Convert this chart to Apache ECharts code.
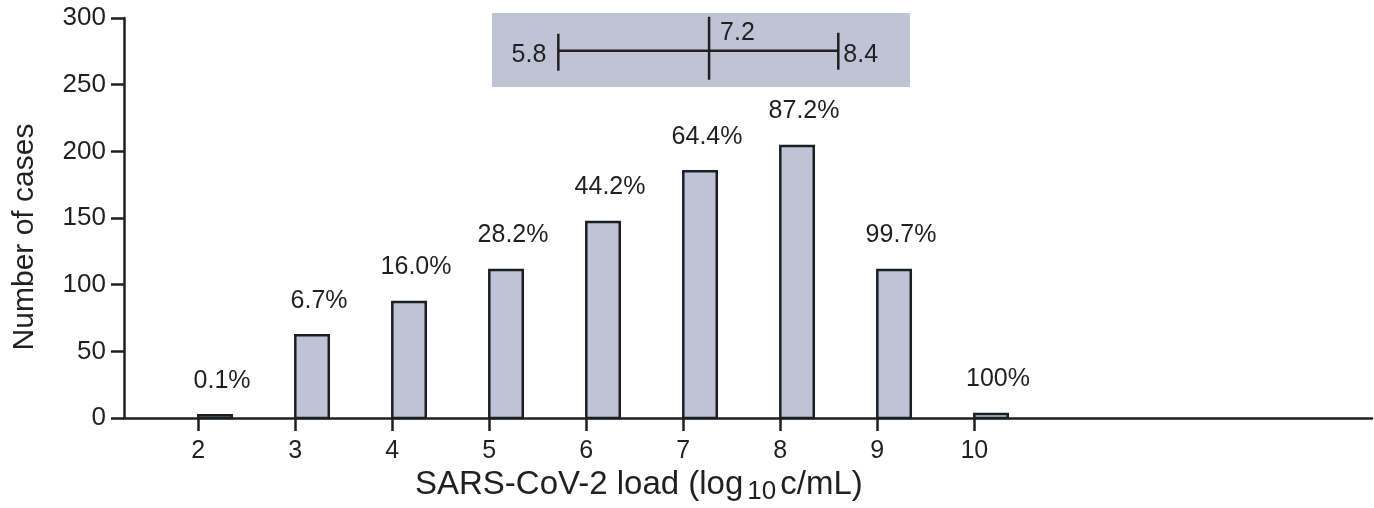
<!DOCTYPE html>
<html>
<head>
<meta charset="utf-8">
<script src="https://cdn.jsdelivr.net/npm/echarts@6/dist/echarts.min.js"></script>
<style>
  html, body { margin: 0; padding: 0; background: #fff; }
  #chart { width: 1374px; height: 508px; }
</style>
</head>
<body>
<div id="chart"></div>
<script>
// histogram bins (log10 copies/mL) and number of cases per bin
const loadBins = [2, 3, 4, 5, 6, 7, 8, 9, 10];
const caseCounts = [2, 62, 87, 111, 147, 185, 204, 111, 3];
const cumulativeLabels = ['0.1%', '6.7%', '16.0%', '28.2%', '44.2%', '64.4%', '87.2%', '99.7%', '100%'];
const xTickValues = [2, 3, 4, 5, 6, 7, 8, 9, 10];
// range / median shown in the inset box
const rangeLow = 5.8;
const rangeMedian = 7.2;
const rangeHigh = 8.4;

const INK = '#231f20';
const FILL = '#bec4d6';
const FONT = "'Liberation Sans', Arial, sans-serif";
const BAR_SPAN = 0.345;

const chart = echarts.init(document.getElementById('chart'), null, { renderer: 'canvas' });

function renderBar(params, api) {
  const x = api.value(0);
  const y = api.value(1);
  const p0 = api.coord([x, 0]);
  const p1 = api.coord([x + BAR_SPAN, y]);
  return {
    type: 'group',
    children: [
      {
        type: 'rect',
        shape: { x: p0[0], y: p1[1], width: p1[0] - p0[0], height: p0[1] - p1[1] },
        style: { fill: FILL, stroke: '#1b1e22', lineWidth: 2.5 }
      },
      {
        type: 'text',
        x: (p0[0] + p1[0]) / 2 + 7,
        y: p1[1] - 22,
        style: {
          text: cumulativeLabels[params.dataIndex],
          align: 'center', verticalAlign: 'bottom',
          fontSize: 25, fontFamily: FONT, fill: INK
        }
      }
    ]
  };
}

function renderRange(params, api) {
  const lo = api.coord([api.value(0), 0.49]);
  const md = api.coord([api.value(1), 0.49]);
  const hi = api.coord([api.value(2), 0.49]);
  const ls = { stroke: INK, lineWidth: 2.5 };
  const txt = (t, x, y, align) => ({
    type: 'text', x, y,
    style: { text: t, align, verticalAlign: 'middle', fontSize: 25, fontFamily: FONT, fill: INK }
  });
  return {
    type: 'group',
    children: [
      { type: 'line', shape: { x1: lo[0], y1: lo[1], x2: hi[0], y2: hi[1] }, style: ls },
      { type: 'line', shape: { x1: lo[0], y1: lo[1] - 17, x2: lo[0], y2: lo[1] + 20 }, style: ls },
      { type: 'line', shape: { x1: hi[0], y1: hi[1] - 18, x2: hi[0], y2: hi[1] + 19 }, style: ls },
      { type: 'line', shape: { x1: md[0], y1: md[1] - 34, x2: md[0], y2: md[1] + 29 }, style: ls },
      txt(String(api.value(0)), lo[0] - 12, lo[1] + 4, 'right'),
      txt(String(api.value(1)), md[0] + 11, md[1] - 18, 'left'),
      txt(String(api.value(2)), hi[0] + 5, hi[1] + 4, 'left')
    ]
  };
}

const option = {
  animation: false,
  backgroundColor: '#fff',
  grid: [
    { left: 124, right: 2, top: 18, bottom: 90 },
    { left: 492, top: 13, width: 418, height: 74, show: true, backgroundColor: FILL, borderWidth: 0 }
  ],
  xAxis: [
    {
      type: 'value', gridIndex: 0, min: 1.234, max: 14.1,
      axisLine: { show: true, onZero: false, lineStyle: { color: INK, width: 2.5 } },
      axisTick: { show: true, length: 13, customValues: xTickValues, lineStyle: { color: INK, width: 2.5 } },
      axisLabel: { customValues: xTickValues, margin: 21, fontSize: 25, fontFamily: FONT, color: INK },
      splitLine: { show: false }
    },
    { type: 'value', gridIndex: 1, min: 5.184, max: 9.066, show: false }
  ],
  yAxis: [
    {
      type: 'value', gridIndex: 0, min: 0, max: 300, interval: 50,
      axisLine: { show: true, lineStyle: { color: INK, width: 2.5 } },
      axisTick: { show: true, length: 13, lineStyle: { color: INK, width: 2.5 } },
      axisLabel: { margin: 18, fontSize: 26, fontFamily: FONT, color: INK },
      splitLine: { show: false }
    },
    { type: 'value', gridIndex: 1, min: 0, max: 1, show: false }
  ],
  series: [
    {
      type: 'custom', xAxisIndex: 0, yAxisIndex: 0,
      data: loadBins.map((b, i) => [b, caseCounts[i]]),
      renderItem: renderBar
    },
    {
      type: 'custom', xAxisIndex: 1, yAxisIndex: 1,
      data: [[rangeLow, rangeMedian, rangeHigh]],
      renderItem: renderRange
    }
  ],
  graphic: [
    {
      type: 'text', x: 25, y: 237, rotation: Math.PI / 2,
      style: { text: 'Number of cases', align: 'center', verticalAlign: 'middle', fontSize: 30, fontFamily: FONT, fill: INK }
    },
    {
      type: 'text', left: 415, top: 468,
      style: {
        text: '{m|SARS-CoV-2 load (log}{s|10}{m|c/mL)}',
        fontFamily: FONT, fill: INK,
        rich: {
          m: { fontSize: 33, fontFamily: FONT, color: INK, lineHeight: 35, verticalAlign: 'top' },
          s: { fontSize: 26, fontFamily: FONT, color: INK, lineHeight: 35, verticalAlign: 'top', padding: [11, 4, 0, 4] }
        }
      }
    }
  ]
};

chart.setOption(option);
</script>
</body>
</html>
